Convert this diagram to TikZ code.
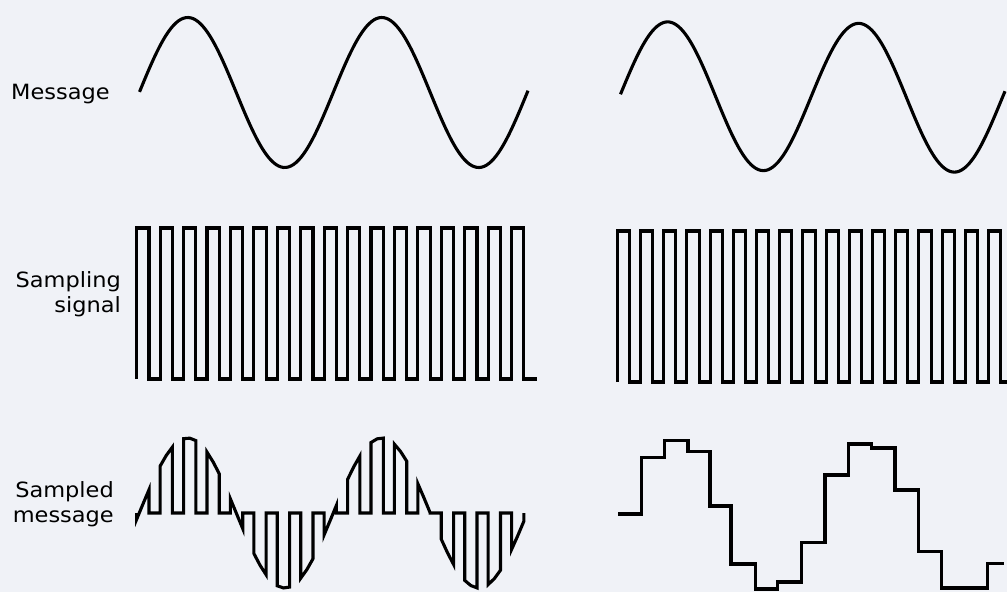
\documentclass[tikz,border=0pt]{standalone}
\usepackage{fontspec}
\newfontfamily\lblfont{DejaVu Sans}
\definecolor{bgcol}{HTML}{F0F2F7}
\tikzset{
  wave/.style={line width=3.1pt, black, line join=miter},
  lbl/.style={font=\lblfont\fontsize{21}{25}\selectfont, inner sep=0pt, align=right, text=black}
}
\begin{document}
\begin{tikzpicture}[x=1pt, y=-1pt]
\useasboundingbox (0,0) rectangle (1007,592);
\fill[bgcol] (0,0) rectangle (1007,592);

% labels
\node[lbl, anchor=base west] (lmsg) at (11,99) {\scalebox{1.07}[1]{Message}};
\node[lbl, anchor=north east] (lsamp) at (121,271) {\scalebox{1.07}[1]{Sampling}\\\scalebox{1.07}[1]{signal}};
\node[lbl, anchor=north east] (lsmsg) at (114,481) {\scalebox{1.07}[1]{Sampled}\\\scalebox{1.07}[1]{message}};

% message sines
\draw[wave] plot[domain=139.5:528, samples=160, smooth] (\x,{92.5-75*sin((\x-139.25)/194*360)});
\draw[wave] plot[domain=620.5:1005, samples=160, smooth] (\x,{95.5+1.5*(\x-620)/191-74*sin((\x-620)/191*360)});

% sampling signals
\draw[wave] (136.7,379) \foreach \k in {0,...,16}{ -- ++(0,-151) -- ++(12.3,0) -- ++(0,151) -- ++(11.13,0) } -- ++(1.5,0);
\draw[wave] (617.3,382) \foreach \k in {0,...,16}{ -- ++(0,-151) -- ++(12.2,0) -- ++(0,151) -- ++(11,0) };

% naturally sampled message
\draw[wave] (136.7,513) \foreach \k [evaluate=\k as \r using 136.7+23.43*\k, evaluate=\k as \m using 142.85+23.43*\k, evaluate=\k as \e using 149+23.43*\k] in {0,...,16} {
  -- (\r,513) -- (\r,{513-75*sin((\r-139.25)/194*360)})
  -- (\m,{513-75*sin((\m-139.25)/194*360)})
  -- (\e,{513-75*sin((\e-139.25)/194*360)}) -- (\e,513) };

% sample-and-hold message
\draw[wave] (618.3,514) -- (641.5,514) -- (641.5,457.5) -- (664.3,457.5) -- (664.3,440.5)
  -- (688,440.5) -- (688,451.5) -- (710,451.5) -- (710,506) -- (731,506) -- (731,564)
  -- (755.7,564) -- (755.7,589) -- (777.5,589) -- (777.5,582) -- (801.7,582) -- (801.7,542.3)
  -- (825,542.3) -- (825,475) -- (848.3,475) -- (848.3,444) -- (871.7,444) -- (871.7,448)
  -- (895,448) -- (895,490) -- (918.3,490) -- (918.3,551.7) -- (941.7,551.7) -- (941.7,588)
  -- (987.7,588) -- (987.7,563.3) -- (1004,563.3);
\end{tikzpicture}
\end{document}
